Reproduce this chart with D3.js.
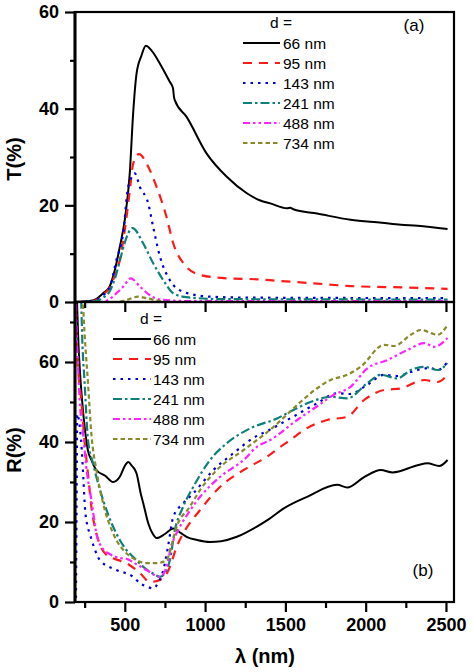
<!DOCTYPE html>
<html><head><meta charset="utf-8">
<script src="https://cdn.jsdelivr.net/npm/d3@7/dist/d3.min.js"></script>
<style>body{margin:0;background:#fff}svg{display:block}text{font-family:Arial,"Liberation Sans",sans-serif}</style>
</head><body>
<svg id="c" width="474" height="672"></svg>
<script>
// ---- data (wavelength nm, value %) ----
const thickness = ["66 nm","95 nm","143 nm","241 nm","488 nm","734 nm"];
const xTicks = [500,1000,1500,2000,2500];
const tTicks = [0,20,40,60];
const rTicks = [0,20,40,60];

const T66 = [[190,0],[300,0.3],[365,1.8],[406,3.2],[438,6.6],[469,11.4],[500,17],[531,26.6],[552,39],[573,47.2],[604,51],[631,53],[667,52],[719,49.3],[781,45.5],[800,44.3],[806,42.5],[812,41.7],[885,38.3],[1010,30.7],[1135,25.9],[1260,22.5],[1344,21],[1406,20.4],[1510,19.4],[1530,19.5],[1550,19.2],[1698,18.3],[1906,17],[2100,16.4],[2219,16],[2323,15.8],[2510,15.1]];
const T95 = [[190,0],[300,0.2],[365,1.5],[406,3],[438,5.5],[469,8.7],[500,14.9],[531,23],[552,28.6],[588,30.6],[646,28],[698,23.8],[760,17.6],[802,12.1],[865,8],[969,5.6],[1135,4.9],[1323,4.7],[1448,4.4],[1700,3.8],[1906,3.3],[2250,3.0],[2510,2.7]];
const T143 = [[190,0],[300,0.2],[365,1.4],[406,3],[448,8.7],[490,14.2],[521,23.8],[563,26.6],[594,23.8],[646,20.4],[677,15.5],[719,9.4],[781,4.5],[865,2.1],[1031,1.1],[1300,0.9],[2510,0.8]];
const T241 = [[190,0],[320,0.2],[370,1],[406,2.2],[440,5],[469,8.5],[500,12.3],[548,15.3],[615,12.1],[677,8],[740,4.5],[802,1.8],[885,1],[1100,0.6],[2510,0.5]];
const T488 = [[190,0],[350,0],[400,0.5],[448,1.8],[490,3.2],[538,4.9],[594,3.2],[656,1.4],[719,0.5],[900,0.2],[2510,0.2]];
const T734 = [[190,0],[450,0],[510,0.4],[583,1.1],[635,0.8],[719,0.2],[800,0],[2510,0]];

const R66 = [[200,78],[205,72],[212,64],[219,58.8],[235,50],[250,43.8],[270,38],[292,35.5],[323,33],[380,31.5],[427,30],[469,31.3],[500,34],[521,35],[545,34],[573,32.2],[600,27],[615,24.7],[646,19.7],[675,17],[698,16],[750,17],[802,18.4],[850,17.2],[885,16.3],[950,15.5],[1031,15],[1100,15.2],[1198,16.3],[1320,18.8],[1400,20.8],[1490,23.4],[1635,26.3],[1823,29.3],[1885,28.6],[1990,31.2],[2094,33],[2167,32.4],[2323,34.2],[2385,34.7],[2458,34],[2510,35.5]];
const R95 = [[192,85],[198,67],[210,58],[229,50.5],[250,40],[271,32],[292,23.8],[323,17.2],[385,11.8],[406,11.3],[470,10.3],[531,9.2],[600,7],[656,5],[719,5.5],[760,7],[781,8.8],[823,13.8],[865,17.2],[969,23],[1094,28.8],[1240,33],[1385,36.3],[1469,38.8],[1531,40.5],[1615,43],[1760,45.5],[1885,46.3],[1990,50.5],[2115,53],[2219,53.4],[2365,55.5],[2448,55],[2510,56.8]];
const R143 = [[196,1],[200,25],[204,47],[212,46],[222,43],[232,38],[242,31],[252,23.5],[265,19.5],[281,17.2],[310,13.5],[344,10.5],[448,8],[552,6.3],[594,4.7],[640,3.8],[677,3.4],[710,5],[740,8],[770,14],[802,21.3],[860,24.5],[927,27.2],[1052,33],[1177,37.2],[1300,41],[1400,43],[1490,45],[1600,47.5],[1698,49.7],[1823,52.2],[1900,52],[2000,54],[2115,56.8],[2200,56.5],[2281,57.5],[2400,58.5],[2450,58],[2510,60]];
const R241 = [[226,80],[235,66],[250,54.7],[271,40.5],[302,34.7],[365,25.5],[420,19.5],[469,15.5],[510,13],[552,11.3],[615,8.8],[680,7],[719,6.3],[760,8],[781,10.5],[812,18],[860,23.5],[927,28.8],[1031,35.5],[1135,39.7],[1281,43.4],[1448,45.9],[1550,48],[1656,50],[1781,51.3],[1885,50.9],[2010,54.7],[2094,56.8],[2198,55.9],[2281,58],[2365,58.8],[2448,58],[2510,59.7]];
const R488 = [[193,85],[198,71],[208,60],[219,50.5],[240,42.2],[260,33.8],[292,25.5],[323,17.2],[360,13.5],[406,12],[469,11],[510,10.8],[570,9.5],[635,8],[719,6.3],[760,8.8],[790,14],[833,18],[900,22.5],[969,26.3],[1094,31.3],[1240,35.5],[1323,38.8],[1406,40.5],[1573,45.5],[1700,49],[1802,51.8],[1906,53.8],[2010,58.4],[2135,60.5],[2260,63],[2365,64.7],[2427,63.8],[2510,66]];
const R734 = [[236,80],[243,72],[250,67],[271,54.7],[292,42],[323,33],[365,24.7],[427,17.2],[510,12.2],[573,10.5],[630,9.7],[698,9.7],[760,10.5],[790,14],[823,18.8],[900,23.5],[969,28],[1073,33],[1240,38],[1427,43.8],[1594,50],[1700,53.5],[1781,55.5],[1885,56.8],[1969,58.8],[2115,64.3],[2177,64],[2281,66.8],[2344,68],[2448,66.8],[2510,69.3]];

const tSeries = [T66,T95,T143,T241,T488,T734];
const rSeries = [R66,R95,R143,R241,R488,R734];

// ---- styles ----
const colors = ["#000000","#ff1a1a","#0000dd","#0f8079","#ff22ff","#8a8a2a"];
const dashes = [null,"9,7","2.5,5","9,3,2.5,3","7,3,2.5,3,2.5,3","4.5,3"];

const svg = d3.select("#c");
const X0 = 75, X1 = 454, TT = 12, MID = 302, BB = 602;
const x = d3.scaleLinear().domain([190,2550]).range([X0,X1]);
const yT = d3.scaleLinear().domain([0,60]).range([MID,TT]);
const yR = d3.scaleLinear().domain([0,75]).range([BB,MID]);

const defs = svg.append("defs");
defs.append("clipPath").attr("id","clipT").append("rect").attr("x",X0).attr("y",TT).attr("width",X1-X0).attr("height",MID-TT);
defs.append("clipPath").attr("id","clipR").append("rect").attr("x",X0).attr("y",MID).attr("width",X1-X0).attr("height",BB-MID);

function drawSeries(series, yS, clip){
  const g = svg.append("g").attr("clip-path",`url(#${clip})`);
  const line = d3.line().x(d=>x(d[0])).y(d=>yS(d[1])).curve(d3.curveMonotoneX);
  series.forEach((s,i)=>{
    g.append("path").attr("d",line(s)).attr("fill","none")
      .attr("stroke",colors[i]).attr("stroke-width",i===0?2:2.2)
      .attr("stroke-dasharray",dashes[i]);
  });
}
drawSeries(rSeries,yR,"clipR");
drawSeries(tSeries,yT,"clipT");

// ---- axes ----
function xAxisAt(yPos, labels){
  const g = svg.append("g").attr("transform",`translate(0,${yPos})`);
  const major = d3.axisBottom(x).tickValues(xTicks).tickSize(10).tickFormat(labels?d3.format("d"):"");
  const gm = g.append("g").call(major);
  const minor = d3.axisBottom(x).tickValues(xTicks.map(v=>v-250)).tickSize(6).tickFormat("");
  const gn = g.append("g").call(minor);
  [gm,gn].forEach(a=>{a.select(".domain").remove(); a.selectAll("line").attr("stroke","#000").attr("stroke-width",2.2);});
  gm.selectAll("text").attr("font-size",18).attr("font-weight","bold").attr("fill","#000").attr("dy","0.95em").attr("y",12);
}
function yAxis(yS, ticks, minorT){
  const g = svg.append("g").attr("transform",`translate(${X0},0)`);
  const gm = g.append("g").call(d3.axisLeft(yS).tickValues(ticks).tickSize(10).tickPadding(6).tickFormat(d3.format("d")));
  const gn = g.append("g").call(d3.axisLeft(yS).tickValues(minorT).tickSize(5).tickFormat(""));
  [gm,gn].forEach(a=>{a.select(".domain").remove(); a.selectAll("line").attr("stroke","#000").attr("stroke-width",2.2);});
  gm.selectAll("text").attr("font-size",18).attr("font-weight","bold").attr("fill","#000");
}
xAxisAt(MID,false);
xAxisAt(BB,true);
yAxis(yT,tTicks,[10,30,50]);
yAxis(yR,rTicks,[10,30,50,70]);

// frames
svg.append("rect").attr("x",X0).attr("y",TT).attr("width",X1-X0).attr("height",MID-TT).attr("fill","none").attr("stroke","#000").attr("stroke-width",2.2);
svg.append("rect").attr("x",X0).attr("y",MID).attr("width",X1-X0).attr("height",BB-MID).attr("fill","none").attr("stroke","#000").attr("stroke-width",2.2);
svg.append("line").attr("x1",X0).attr("x2",X0).attr("y1",TT-1).attr("y2",BB+1).attr("stroke","#000").attr("stroke-width",3);

// titles
svg.append("text").attr("transform","translate(21,159) rotate(-90)").attr("text-anchor","middle")
  .attr("font-size",20).attr("font-weight","bold").text("T(%)");
svg.append("text").attr("transform","translate(21,450) rotate(-90)").attr("text-anchor","middle")
  .attr("font-size",20).attr("font-weight","bold").text("R(%)");
svg.append("text").attr("x",265).attr("y",663).attr("text-anchor","middle")
  .attr("font-size",20).attr("font-weight","bold").text("λ (nm)");

svg.append("text").attr("x",414).attr("y",31).attr("text-anchor","middle").attr("font-size",17).text("(a)");
svg.append("text").attr("x",423).attr("y",576).attr("text-anchor","middle").attr("font-size",17).text("(b)");

// legends
function legend(lx0, lx1, tx, dX, dY, rowY){
  svg.append("text").attr("x",dX).attr("y",dY).attr("font-size",15.5).attr("text-anchor","middle").text("d =");
  thickness.forEach((t,i)=>{
    const yy = rowY + i*20;
    svg.append("line").attr("x1",lx0).attr("x2",lx1).attr("y1",yy).attr("y2",yy)
      .attr("stroke",colors[i]).attr("stroke-width",i===0?2:2.2).attr("stroke-dasharray",dashes[i]);
    svg.append("text").attr("x",tx).attr("y",yy+5.5).attr("font-size",15.5).text(t);
  });
}
legend(243,280,283,281,28,43);
legend(113,151,153,151,324,339);
</script>
</body></html>
